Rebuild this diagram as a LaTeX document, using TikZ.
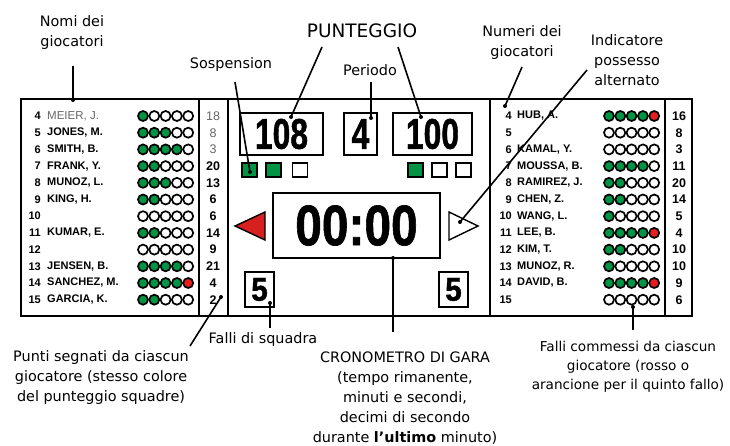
\documentclass[tikz,border=0pt]{standalone}
\usepackage{fontspec}
\usepackage{graphicx}
\setmainfont{DejaVu Sans}
\newfontfamily\lsans{Liberation Sans}
\newfontfamily\digfont[BoldFeatures={FakeBold=1.2}]{Liberation Sans}
\definecolor{fgreen}{RGB}{0,148,68}
\definecolor{fred}{RGB}{230,30,30}
\definecolor{tred}{RGB}{214,32,32}
\newcommand\digs[3]{\scalebox{#2}[1]{\fontsize{#1}{#1}\selectfont\digfont\bfseries #3}}
\begin{document}
\begin{tikzpicture}[x=1pt,y=-1pt,
  call/.style={font=\fontsize{14.4}{20}\selectfont, align=center, inner sep=0pt},
  bigcall/.style={font=\fontsize{18.5}{22}\selectfont, inner sep=0pt},
  lead/.style={line width=1.6pt},
  frame/.style={line width=2.6pt},
  thinframe/.style={line width=1.4pt},
  box/.style={draw, line width=1.4pt, inner sep=0pt},
  sq/.style={draw, line width=1.3pt, minimum width=15pt, minimum height=14pt, inner sep=0pt},
  foul/.style={draw, line width=1.7pt},
  pname/.style={font=\lsans\bfseries\fontsize{11}{12}\selectfont, anchor=west, inner sep=0pt},
  pnum/.style={font=\lsans\bfseries\fontsize{11}{12}\selectfont, anchor=east, inner sep=0pt},
  ppts/.style={font=\lsans\bfseries\fontsize{12.5}{13}\selectfont, inner sep=0pt},
  pptsg/.style={font=\lsans\fontsize{12.5}{13}\selectfont, text=black!60, inner sep=0pt}
]
\useasboundingbox (0,0) rectangle (730,445);

% board frame
\draw[frame] (21,99) rectangle (692,316);
\draw[thinframe] (199,99) -- (199,316);
\draw[frame] (228,99) -- (228,316);
\draw[frame] (490,99) -- (490,316);
\draw[thinframe] (665,99) -- (665,316);

% score boxes
\node[box, minimum width=83pt, minimum height=42pt] (homebox) at (281.5,134) {\digs{43}{0.74}{108}};
\node[box, minimum width=33pt, minimum height=42pt] (perbox) at (360.5,134) {\digs{43}{0.74}{4}};
\node[box, minimum width=79pt, minimum height=42pt] (guestbox) at (432.5,134) {\digs{43}{0.74}{100}};

% suspension squares
\node[sq, fill=fgreen] (s1) at (249.5,170) {};
\node[sq, fill=fgreen] (s2) at (273.5,170) {};
\node[sq, fill=white] (s3) at (300,170) {};
\node[sq, fill=fgreen] (s4) at (415.5,170) {};
\node[sq, fill=white] (s5) at (439.5,170) {};
\node[sq, fill=white] (s6) at (463.5,170) {};

% clock
\node[box, minimum width=167pt, minimum height=65pt] (clock) at (356.5,225.5) {\digs{57}{0.84}{00:00}};

% possession arrows
\draw[line width=1.4pt, fill=tred] (235,226) -- (265,212) -- (265,240) -- cycle;
\draw[line width=1.4pt, fill=white] (478,226) -- (449,212) -- (449,240) -- cycle;

% team fouls
\node[box, minimum width=29pt, minimum height=35pt] (hfoul) at (259.5,289.5) {\digs{33}{0.9}{5}};
\node[box, minimum width=29pt, minimum height=35pt] (gfoul) at (453.5,289.5) {\digs{33}{0.9}{5}};

% left team
\foreach \n/\nm/\g/\r/\p [count=\i] in {
  4/{MEIER, J.}/1/0/18, 5/{JONES, M.}/3/0/8, 6/{SMITH, B.}/4/0/3,
  7/{FRANK, Y.}/2/0/20, 8/{MUNOZ, L.}/3/0/13, 9/{KING, H.}/2/0/6,
  10/{}/0/0/6, 11/{KUMAR, E.}/2/0/14, 12/{}/0/0/9,
  13/{JENSEN, B.}/4/0/21, 14/{SANCHEZ, M.}/4/1/4, 15/{GARCIA, K.}/2/0/2}{
  \pgfmathsetmacro\yy{116+16.7*(\i-1)}
  \node[pnum] (ln\i) at (41,\yy) {\n};
  \ifnum\i=1
    \node[pname, font=\lsans\fontsize{11.5}{12}\selectfont, text=black!60] (lname\i) at (47,\yy) {\nm};
  \else
    \node[pname] (lname\i) at (47,\yy) {\nm};
  \fi
  \ifnum\i<4
    \node[pptsg] (lp\i) at (213,\yy) {\p};
  \else
    \node[ppts] (lp\i) at (213,\yy) {\p};
  \fi
  \foreach \k in {1,...,5}{
    \ifnum\k>\g \def\fc{white}\else\def\fc{fgreen}\fi
    \ifnum\k=5 \ifnum\r=1 \def\fc{fred}\fi\fi
    \draw[foul, fill=\fc] ({143+11.3*(\k-1)},\yy) circle (5pt);
  }
}

% right team
\foreach \n/\nm/\g/\r/\p [count=\i] in {
  4/{HUB, A.}/4/1/16, 5/{}/0/0/8, 6/{KAMAL, Y.}/0/0/3,
  7/{MOUSSA, B.}/4/0/11, 8/{RAMIREZ, J.}/2/0/20, 9/{CHEN, Z.}/2/0/14,
  10/{WANG, L.}/1/0/5, 11/{LEE, B.}/4/1/4, 12/{KIM, T.}/2/0/10,
  13/{MUNOZ, R.}/1/0/10, 14/{DAVID, B.}/4/1/9, 15/{}/0/0/6}{
  \pgfmathsetmacro\yy{116+16.7*(\i-1)}
  \node[pnum] (rn\i) at (512,\yy) {\n};
  \node[pname] (rname\i) at (517,\yy) {\nm};
  \node[ppts] (rp\i) at (679,\yy) {\p};
  \foreach \k in {1,...,5}{
    \ifnum\k>\g \def\fc{white}\else\def\fc{fgreen}\fi
    \ifnum\k=5 \ifnum\r=1 \def\fc{fred}\fi\fi
    \draw[foul, fill=\fc] ({609+11.3*(\k-1)},\yy) circle (5pt);
  }
}

% callout texts
\node[call] (nomi) at (72,33) {Nomi dei\\giocatori};
\node[call] (sosp) at (231,65) {Sospension};
\node[bigcall] (punt) at (362,31) {PUNTEGGIO};
\node[call] (peri) at (370,70) {Periodo};
\node[call] (numeri) at (522,43) {Numeri dei\\giocatori};
\node[call] (indic) at (627,60) {Indicatore\\possesso\\alternato};
\node[call] (falliSq) at (263,340) {Falli di squadra};
\node[call] (punti) at (101,378) {Punti segnati da ciascun\\giocatore (stesso colore\\del punteggio squadre)};
\node[call] (crono) at (405,398) {CRONOMETRO DI GARA\\(tempo rimanente,\\minuti e secondi,\\decimi di secondo\\durante \textbf{l'ultimo} minuto)};
\node[call, font=\fontsize{13.6}{19}\selectfont] (falliC) at (628,367) {Falli commessi da ciascun\\giocatore (rosso o\\arancione per il quinto fallo)};

% leader start points
\coordinate (nomiS) at (73,66);
\coordinate (sospS) at (235,82);
\coordinate (puntLS) at (322,47);
\coordinate (puntRS) at (398,47);
\coordinate (periS) at (371,82);
\coordinate (numS) at (522,67);
\coordinate (indS) at (587,70);
\coordinate (falliSqS) at (270,328);
\coordinate (puntiS) at (190,346);
\coordinate (cronoS) at (393,332);
\coordinate (falliCS) at (633,330);

% leader targets
\coordinate (nomiT) at (73,100);
\coordinate (sospT) at (250,172);
\coordinate (puntLT) at (291,117);
\coordinate (puntRT) at (421,117);
\coordinate (periT) at (371,118);
\coordinate (numT) at (505,106);
\coordinate (indT) at (460,222);
\coordinate (falliSqT) at (270,303);
\coordinate (puntiT) at (221,297);
\coordinate (cronoT) at (393,258);
\coordinate (falliCT) at (633,307);

\foreach \a in {nomi,sosp,puntL,puntR,peri,num,ind,falliSq,punti,crono,falliC}{
  \draw[lead] (\a S) -- (\a T);
  \fill (\a T) circle (2pt);
}
\end{tikzpicture}
\end{document}
